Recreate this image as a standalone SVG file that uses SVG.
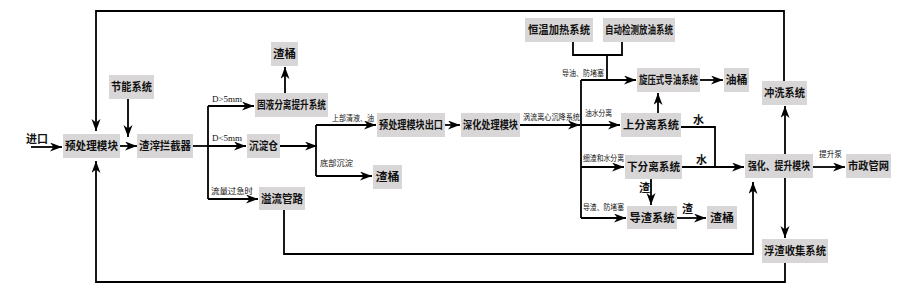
<svg xmlns="http://www.w3.org/2000/svg" width="900" height="300" viewBox="0 0 900 300">
<defs>
<marker id="ah" markerUnits="userSpaceOnUse" markerWidth="13" markerHeight="10" refX="12" refY="4.5" orient="auto">
<path d="M0,0 L12,4.5 L0,9 L3.5,4.5 Z" fill="#000"/>
</marker>
<style>
.box{fill:#d8d6d6;stroke:none}
.bt{font-family:"Noto Sans CJK SC","Noto Sans CJK JP",sans-serif;font-size:11px;font-weight:bold;fill:#111;text-anchor:middle}
.lb{font-family:"Noto Sans CJK SC","Noto Sans CJK JP",sans-serif;font-size:7.5px;fill:#111}
.lm{font-family:"Noto Sans CJK SC","Noto Sans CJK JP",sans-serif;font-size:11px;font-weight:bold;fill:#111}
.ln{font-family:"Liberation Serif",serif;font-size:9px;fill:#111}
.c{fill:none;stroke:#000;stroke-width:1.8}
.a{fill:none;stroke:#000;stroke-width:1.8;marker-end:url(#ah)}
</style>
</defs>
<rect width="900" height="300" fill="#fff"/>

<g id="connectors">
<path class="a" d="M31,147 H62"/>
<path class="a" d="M120,146 H137"/>
<path class="a" d="M128,99 V137"/>
<path class="a" d="M784,81 V11 H96 V131"/>
<path class="a" d="M785,263 V282 H96 V161"/>
<path class="c" d="M193,146 H208"/>
<path class="c" d="M208,106 V199"/>
<path class="a" d="M208,106 H254"/>
<path class="a" d="M208,146 H246"/>
<path class="a" d="M208,199 H258"/>
<path class="a" d="M285,93 V67"/>
<path class="a" d="M280,146 H317"/>
<path class="c" d="M316,125 V176"/>
<path class="a" d="M316,125 H376"/>
<path class="a" d="M316,176 H372"/>
<path class="a" d="M445,125 H460"/>
<path class="a" d="M520,125 H580"/>
<path class="c" d="M581,80 V218"/>
<path class="c" d="M573,42 V55 H622 V42"/>
<path class="c" d="M607,55 V80"/>
<path class="a" d="M581,80 H636"/>
<path class="a" d="M581,125 H620"/>
<path class="a" d="M581,167 H624"/>
<path class="a" d="M581,218 H626"/>
<path class="a" d="M700,80 H723"/>
<path class="a" d="M658,113 V93"/>
<path class="c" d="M681,127 H715 V167"/>
<path class="a" d="M682,167 H744"/>
<path class="a" d="M651,179 V205"/>
<path class="a" d="M677,218 H706"/>
<path class="a" d="M813,167 H845"/>
<path class="a" d="M785,154 V106"/>
<path class="a" d="M785,178 V238"/>
<path class="a" d="M284,210 V254 H753 V182"/>
</g>

<g id="labels">
<text class="lm" x="26" y="143">进口</text>
<text class="ln" x="212" y="102">D&gt;5mm</text>
<text class="ln" x="212" y="141">D&lt;5mm</text>
<text class="lb" x="211" y="194" textLength="42" lengthAdjust="spacingAndGlyphs">流量过急时</text>
<text class="lb" x="332" y="121" textLength="42" lengthAdjust="spacingAndGlyphs">上部清液、油</text>
<text class="lb" x="320" y="166" textLength="33" lengthAdjust="spacingAndGlyphs">底部沉淀</text>
<text class="lb" x="523" y="120" textLength="57" lengthAdjust="spacingAndGlyphs">涡流离心沉降系统</text>
<text class="lb" x="562" y="76" textLength="42" lengthAdjust="spacingAndGlyphs">导油、防堵塞</text>
<text class="lb" x="585" y="116" textLength="27" lengthAdjust="spacingAndGlyphs">油水分离</text>
<text class="lb" x="583" y="161" textLength="41" lengthAdjust="spacingAndGlyphs">细渣和水分离</text>
<text class="lb" x="583" y="210" textLength="41" lengthAdjust="spacingAndGlyphs">导渣、防堵塞</text>
<text class="lm" x="693" y="124">水</text>
<text class="lm" x="696" y="164">水</text>
<text class="lb" x="819" y="157" textLength="23" lengthAdjust="spacingAndGlyphs">提升泵</text>
<text class="lm" x="639" y="192">渣</text>
<text class="lm" x="682" y="213">渣</text>
</g>

<g id="n_pre"><rect class="box" x="63" y="134" width="57" height="24"/><text class="bt" x="91.5" y="150" textLength="53" lengthAdjust="spacingAndGlyphs">预处理模块</text></g>
<g id="n_jieneng"><rect class="box" x="109" y="75" width="45" height="24"/><text class="bt" x="131.5" y="91" textLength="41" lengthAdjust="spacingAndGlyphs">节能系统</text></g>
<g id="n_lanjie"><rect class="box" x="137" y="134" width="56" height="24"/><text class="bt" x="165" y="150" textLength="52" lengthAdjust="spacingAndGlyphs">渣滓拦截器</text></g>
<g id="n_guye"><rect class="box" x="255" y="93" width="73" height="24"/><text class="bt" x="291.5" y="109" textLength="69" lengthAdjust="spacingAndGlyphs">固液分离提升系统</text></g>
<g id="n_zhatong1"><rect class="box" x="271" y="42" width="27" height="24"/><text class="bt" x="284.5" y="58" textLength="23" lengthAdjust="spacingAndGlyphs">渣桶</text></g>
<g id="n_chendian"><rect class="box" x="247" y="134" width="33" height="24"/><text class="bt" x="263.5" y="150" textLength="29" lengthAdjust="spacingAndGlyphs">沉淀仓</text></g>
<g id="n_yiliu"><rect class="box" x="259" y="187" width="46" height="23"/><text class="bt" x="282" y="202.5" textLength="42" lengthAdjust="spacingAndGlyphs">溢流管路</text></g>
<g id="n_chukou"><rect class="box" x="377" y="113" width="68" height="24"/><text class="bt" x="411" y="129" textLength="64" lengthAdjust="spacingAndGlyphs">预处理模块出口</text></g>
<g id="n_zhatong2"><rect class="box" x="373" y="165" width="29" height="24"/><text class="bt" x="387.5" y="181" textLength="24" lengthAdjust="spacingAndGlyphs">渣桶</text></g>
<g id="n_shenhua"><rect class="box" x="461" y="113" width="59" height="24"/><text class="bt" x="490.5" y="129" textLength="55" lengthAdjust="spacingAndGlyphs">深化处理模块</text></g>
<g id="n_hengwen"><rect class="box" x="525" y="18" width="68" height="24"/><text class="bt" x="559" y="34" textLength="62" lengthAdjust="spacingAndGlyphs">恒温加热系统</text></g>
<g id="n_zidong"><rect class="box" x="603" y="18" width="72" height="24"/><text class="bt" x="639" y="34" textLength="68" lengthAdjust="spacingAndGlyphs">自动检测放油系统</text></g>
<g id="n_xuanya"><rect class="box" x="637" y="68" width="63" height="24"/><text class="bt" x="668.5" y="84" textLength="59" lengthAdjust="spacingAndGlyphs">旋压式导油系统</text></g>
<g id="n_youtong"><rect class="box" x="724" y="68" width="25" height="24"/><text class="bt" x="736.5" y="84" textLength="22" lengthAdjust="spacingAndGlyphs">油桶</text></g>
<g id="n_shangfen"><rect class="box" x="621" y="113" width="60" height="24"/><text class="bt" x="651" y="129" textLength="56" lengthAdjust="spacingAndGlyphs">上分离系统</text></g>
<g id="n_xiafen"><rect class="box" x="625" y="155" width="57" height="24"/><text class="bt" x="653.5" y="171" textLength="53" lengthAdjust="spacingAndGlyphs">下分离系统</text></g>
<g id="n_daozha"><rect class="box" x="627" y="206" width="50" height="23"/><text class="bt" x="652" y="221.5" textLength="45" lengthAdjust="spacingAndGlyphs">导渣系统</text></g>
<g id="n_zhatong3"><rect class="box" x="707" y="206" width="30" height="23"/><text class="bt" x="722" y="221.5" textLength="24" lengthAdjust="spacingAndGlyphs">渣桶</text></g>
<g id="n_chongxi"><rect class="box" x="762" y="81" width="45" height="24"/><text class="bt" x="784.5" y="97" textLength="41" lengthAdjust="spacingAndGlyphs">冲洗系统</text></g>
<g id="n_qianghua"><rect class="box" x="745" y="154" width="68" height="24"/><text class="bt" x="779" y="170" textLength="62" lengthAdjust="spacingAndGlyphs">强化、提升模块</text></g>
<g id="n_shizheng"><rect class="box" x="846" y="154" width="45" height="24"/><text class="bt" x="868.5" y="170" textLength="41" lengthAdjust="spacingAndGlyphs">市政管网</text></g>
<g id="n_fuzha"><rect class="box" x="762" y="239" width="66" height="24"/><text class="bt" x="795" y="255" textLength="62" lengthAdjust="spacingAndGlyphs">浮渣收集系统</text></g>
</svg>
